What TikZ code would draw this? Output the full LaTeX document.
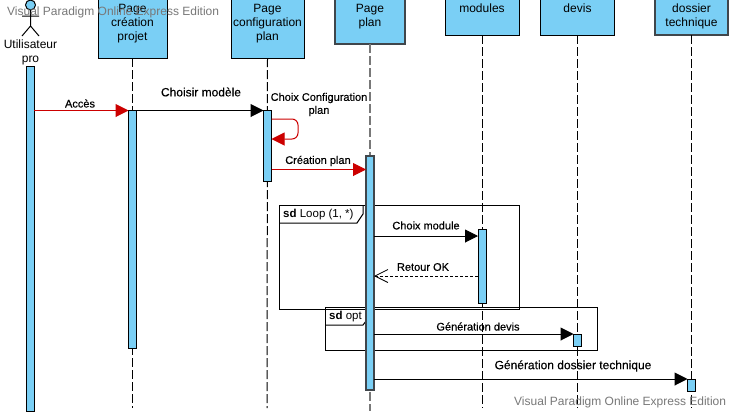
\documentclass[tikz,border=0pt]{standalone}
\usepackage{fontspec}
\setmainfont{Liberation Sans}
\newfontfamily\labfont{Liberation Sans}[FakeBold=0.35]
\usetikzlibrary{arrows.meta}
\definecolor{vpblue}{RGB}{122,207,245}
\definecolor{vpred}{RGB}{204,0,0}
\definecolor{vpedge}{RGB}{64,70,75}
\definecolor{vpgray}{RGB}{120,120,120}
\tikzset{
  x=1pt,y=-1pt,
  head/.style={draw=black,fill=vpblue,line width=1pt,rectangle,inner sep=0pt,outer sep=0pt},
  headbold/.style={head,draw=vpedge,line width=1.6pt},
  headtext/.style={inner sep=0pt,align=center,anchor=north,font=\fontsize{12}{14}\selectfont},
  activ/.style={draw=black,fill=vpblue,line width=1pt,rectangle,inner sep=0pt,outer sep=0pt},
  activbold/.style={activ,draw=vpedge,line width=1.6pt},
  life/.style={line width=1pt,dash pattern=on 9pt off 3pt},
  lifebold/.style={line width=1.8pt,draw=vpgray,dash pattern=on 9pt off 3pt},
  msg/.style={line width=1pt,-{Triangle[length=13pt,width=13pt]}},
  msgred/.style={msg,draw=vpred,-{Triangle[length=13pt,width=13pt,fill=vpred]}},
  ret/.style={line width=.8pt,dashed,dash pattern=on 3pt off 2pt,-{Straight Barb[length=13pt,width=13pt,line width=.8pt]}},
  msgtext/.style={inner sep=0pt,align=center,font=\fontsize{11}{13}\selectfont\labfont},
  msgbig/.style={inner sep=0pt,align=center,font=\fontsize{12}{14}\selectfont\labfont},
  frametext/.style={inner sep=0pt,anchor=west,font=\fontsize{11.5}{14}\selectfont},
  framebox/.style={draw=black,line width=1pt},
  water/.style={inner sep=0pt,anchor=west,text=vpgray,font=\fontsize{12}{14}\selectfont},
}
\begin{document}
\begin{tikzpicture}
\useasboundingbox[fill=white] (0,0) rectangle (731,413);
% message levels and lifeline ends
\coordinate (y1) at (0,110.5);
\coordinate (y2) at (0,169.5);
\coordinate (y3) at (0,236);
\coordinate (y4) at (0,276);
\coordinate (y5) at (0,334);
\coordinate (y6) at (0,379);
% frames
\draw[framebox] (279,205) rectangle (519.5,309);
\draw[framebox] (279,223) -- (357,223) -- (363,214) -- (363,205);
\node[frametext] (loopt) at (283,214.5) {\textbf{sd} Loop (1, *)};
% head boxes
\node[head,minimum width=69pt,minimum height=60pt] (b1) at (132.5,28) {};
\node[head,minimum width=73pt,minimum height=60pt] (b2) at (267.5,28) {};
\node[headbold,minimum width=70pt,minimum height=46pt] (b3) at (370,21) {};
\node[head,minimum width=74pt,minimum height=37pt] (b4) at (482,16.5) {};
\node[head,minimum width=73.5pt,minimum height=37pt] (b5) at (577.5,16.5) {};
\node[headbold,minimum width=73pt,minimum height=37pt] (b6) at (691.5,16.5) {};
\coordinate (e1) at (132.5,408);
\coordinate (e2) at (267,408);
\coordinate (e3) at (370,411);
\coordinate (e4) at (482,408);
\coordinate (e5) at (577.5,408);
\coordinate (e6) at (691.5,408);
\draw[life] (b1.south) -- (e1);
\draw[life] (b2.south) -- (e2);
\draw[lifebold] (b3.south) -- (e3);
\draw[life] (b4.south) -- (e4);
\draw[life] (b5.south) -- (e5);
\draw[life] (b6.south) -- (e6);
\node[headtext] (t1) at (132.5,4) {Page\\création\\projet};
\node[headtext] (t2) at (267.5,4) {Page\\configuration\\plan};
\node[headtext] (t3) at (370,4) {Page\\plan};
\node[headtext] (t4) at (482,4) {modules};
\node[headtext] (t5) at (577.5,4) {devis};
\node[headtext] (t6) at (691.5,4) {dossier\\technique};
% actor
\draw[draw=black,fill=vpblue,line width=1pt] (30.5,5) circle (5);
\draw[line width=1pt] (30.5,10) -- (30.5,26) (22,16) -- (39,16) (22,36) -- (30.5,26) -- (39,36);
\node[headtext] (actor) at (30.5,39.5) {Utilisateur\\pro};
% activations
\node[activ,minimum width=7.5pt,minimum height=345pt] (a0) at (30.5,238.5) {};
\node[activ,minimum width=8pt,minimum height=238pt] (a1) at (132.5,229) {};
\node[activ,minimum width=8pt,minimum height=71pt] (a2) at (267.5,145.5) {};
\node[activ,minimum width=8pt,minimum height=74pt] (a4) at (482,266.5) {};
% opt frame (drawn over the loop frame, under the plan activation)
\draw[framebox] (325.5,307.5) rectangle (597.5,350.5);
\draw[framebox] (325.5,325) -- (363,325) -- (369,317) -- (369,307.5);
\node[frametext] (optt) at (329,316.5) {\textbf{sd} opt};
\node[activbold,minimum width=8pt,minimum height=234pt] (a3) at (370,273) {};
\node[activ,minimum width=8pt,minimum height=12pt] (a5) at (577.5,340) {};
\node[activ,minimum width=8pt,minimum height=12pt] (a6) at (691.5,385) {};
% messages
\draw[msgred] (a0.east |- y1) -- (a1.west |- y1);
\draw[msg] (a1.east |- y1) -- (a2.west |- y1);
\draw[msgred] (a2.east |- y2) -- (a3.west |- y2);
\draw[msg] (a3.east |- y3) -- (a4.west |- y3);
\draw[ret] (a4.west |- y4) -- (a3.east |- y4);
\draw[msg] (a3.east |- y5) -- (a5.west |- y5);
\draw[msg] (a3.east |- y6) -- (a6.west |- y6);
\coordinate (s1) at (271.5,119);
\coordinate (s2) at (271.5,139);
\draw[msgred,rounded corners=6pt] (s1) -- (298,119) -- (298,139) -- (s2);
% labels
\node[msgtext] (l1) at (80,103.5) {Accès};
\node[msgbig] (l2) at (201,92) {Choisir modèle};
\node[msgtext] (l3) at (319,104.5) {Choix Configuration\\plan};
\node[msgtext] (l4) at (318,161) {Création plan};
\node[msgtext] (l5) at (426,225.5) {Choix module};
\node[msgtext] (l6) at (423,267) {Retour OK};
\node[msgtext] (l7) at (478,326.5) {Génération devis};
\node[msgbig] (l8) at (573,366) {Génération dossier technique};
% watermarks
\node[water] (w1) at (7,12) {Visual Paradigm Online Express Edition};
\node[water] (w2) at (514,402.5) {Visual Paradigm Online Express Edition};
\end{tikzpicture}
\end{document}
